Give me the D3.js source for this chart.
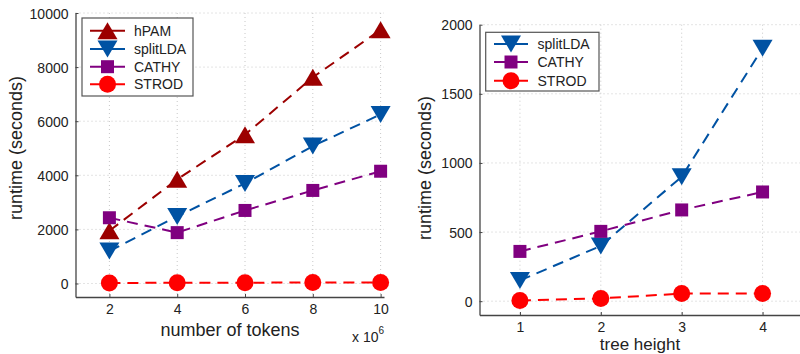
<!DOCTYPE html>
<html>
<head>
<meta charset="utf-8">
<script src="https://cdn.jsdelivr.net/npm/d3@7"></script>
<style>
  html, body { margin: 0; padding: 0; background: #fff; }
  svg { display: block; font-family: "Liberation Sans", Arial, sans-serif; }
</style>
</head>
<body>
<svg id="chart" width="800" height="354"></svg>
<script>
// Runtime vs. number of tokens (x 10^6)
const tokenCounts = [2, 4, 6, 8, 10];
const hpamByTokens = [1950, 3850, 5500, 7620, 9380];
const splitLdaByTokens = [1200, 2480, 3700, 5080, 6250];
const cathyByTokens = [2430, 1880, 2700, 3440, 4150];
const strodByTokens = [20, 25, 30, 35, 40];
const tokenYTicks = [0, 2000, 4000, 6000, 8000, 10000];

// Runtime vs. tree height
const treeHeights = [1, 2, 3, 4];
const splitLdaByHeight = [150, 400, 900, 1830];
const cathyByHeight = [360, 505, 660, 790];
const strodByHeight = [5, 20, 55, 55];
const heightYTicks = [0, 500, 1000, 1500, 2000];

const COLORS = {
  hPAM: "#9c0000",
  splitLDA: "#0052a3",
  CATHY: "#800080",
  STROD: "#ff0000"
};
const SHAPES = { hPAM: "up", splitLDA: "down", CATHY: "square", STROD: "circle" };

const svg = d3.select("#chart");
const plain = d3.format("d");

function markerPath(shape) {
  if (shape === "up") return "M0,-8.5L10,8.5L-10,8.5Z";
  if (shape === "down") return "M0,8.5L10,-8.5L-10,-8.5Z";
  if (shape === "square") return "M-6.5,-6.5H6.5V6.5H-6.5Z";
  return d3.symbol(d3.symbolCircle, Math.PI * 8.5 * 8.5)();
}

function drawPanel(cfg) {
  const g = svg.append("g");
  const x = d3.scaleLinear().domain(cfg.xDomain).range(cfg.xRange);
  const y = d3.scaleLinear().domain(cfg.yDomain).range(cfg.yRange);
  const [x0, x1] = cfg.xRange;
  const [yb, yt] = cfg.yRange;

  // dotted grid
  g.append("g").selectAll("line").data(cfg.yTicks).join("line")
    .attr("x1", x0).attr("x2", x1)
    .attr("y1", d => y(d)).attr("y2", d => y(d))
    .attr("stroke", "#c8c8c8").attr("stroke-width", 1)
    .attr("stroke-dasharray", "1,3");
  g.append("g").selectAll("line").data(cfg.xTicks).join("line")
    .attr("x1", d => x(d)).attr("x2", d => x(d))
    .attr("y1", yt).attr("y2", yb)
    .attr("stroke", "#c8c8c8").attr("stroke-width", 1)
    .attr("stroke-dasharray", "1,3");

  // axes with inward ticks
  const xAxis = d3.axisBottom(x).tickValues(cfg.xTicks).tickFormat(plain)
    .tickSizeInner(-3).tickSizeOuter(0);
  const yAxis = d3.axisLeft(y).tickValues(cfg.yTicks).tickFormat(plain)
    .tickSizeInner(-3).tickSizeOuter(0).tickPadding(7);
  const gx = g.append("g").attr("transform", `translate(0,${yb})`).call(xAxis);
  const gy = g.append("g").attr("transform", `translate(${x0},0)`).call(yAxis);
  [gx, gy].forEach(ax => {
    ax.select(".domain").attr("stroke", "#444").attr("stroke-width", 1.3);
    ax.selectAll(".tick line").attr("stroke", "#444");
    ax.selectAll(".tick text")
      .attr("font-family", "Liberation Sans, Arial, sans-serif")
      .attr("font-size", 14).attr("fill", "#222");
  });
  gx.selectAll(".tick text").attr("dy", null).attr("y", cfg.xTickBaseline - yb);
  gy.selectAll(".tick text").attr("dy", "0.36em");

  // series
  const line = d3.line().x(d => x(d[0])).y(d => y(d[1]));
  cfg.series.forEach(s => {
    const pts = cfg.xValues.map((v, i) => [v, s.values[i]]);
    g.append("path").datum(pts)
      .attr("d", line)
      .attr("fill", "none")
      .attr("stroke", COLORS[s.name])
      .attr("stroke-width", 2)
      .attr("stroke-dasharray", "11,7");
    g.append("g").selectAll("path").data(pts).join("path")
      .attr("transform", d => `translate(${x(d[0])},${y(d[1])})`)
      .attr("d", markerPath(SHAPES[s.name]))
      .attr("fill", COLORS[s.name]);
  });

  // labels
  g.append("text")
    .attr("x", cfg.xLabelPos[0]).attr("y", cfg.xLabelPos[1])
    .attr("text-anchor", "middle").attr("font-size", cfg.xLabelSize).attr("fill", "#222")
    .text(cfg.xLabel);
  g.append("text")
    .attr("transform", `translate(${cfg.yLabelPos[0]},${cfg.yLabelPos[1]}) rotate(-90)`)
    .attr("text-anchor", "middle").attr("font-size", 18).attr("fill", "#222")
    .text("runtime (seconds)");

  // legend
  const L = cfg.legend;
  g.append("rect")
    .attr("x", L.x).attr("y", L.y).attr("width", L.w).attr("height", L.h)
    .attr("fill", "#fff").attr("stroke", "#555").attr("stroke-width", 1.2);
  cfg.series.forEach((s, i) => {
    const ly = L.rows[i];
    g.append("line")
      .attr("x1", L.lx0).attr("x2", L.lx1).attr("y1", ly).attr("y2", ly)
      .attr("stroke", COLORS[s.name]).attr("stroke-width", 2);
    g.append("path")
      .attr("transform", `translate(${(L.lx0 + L.lx1) / 2},${ly})`)
      .attr("d", markerPath(SHAPES[s.name]))
      .attr("fill", COLORS[s.name]);
    g.append("text")
      .attr("x", L.tx).attr("y", ly + 5)
      .attr("font-size", 14).attr("fill", "#222")
      .text(s.name);
  });
  return g;
}

const left = drawPanel({
  xDomain: [1, 10.1], xRange: [75.5, 384],
  yDomain: [-500, 10000], yRange: [297, 13],
  xTicks: tokenCounts, yTicks: tokenYTicks, xValues: tokenCounts,
  xTickBaseline: 314,
  series: [
    { name: "hPAM", values: hpamByTokens },
    { name: "splitLDA", values: splitLdaByTokens },
    { name: "CATHY", values: cathyByTokens },
    { name: "STROD", values: strodByTokens }
  ],
  xLabel: "number of tokens", xLabelPos: [230, 336], xLabelSize: 18,
  yLabelPos: [22, 148],
  legend: { x: 82, y: 18, w: 111, h: 78, rows: [30.7, 49, 66.7, 84.3], lx0: 90, lx1: 125, tx: 134 }
});

// x 10^6 multiplier under the token axis
const mult = left.append("text").attr("x", 352).attr("y", 342).attr("font-size", 14).attr("fill", "#222");
mult.append("tspan").text("x 10");
mult.append("tspan").attr("font-size", 10).attr("dy", -8).text("6");

drawPanel({
  xDomain: [0.5, 4.5], xRange: [479.5, 803],
  yDomain: [-100, 2000], yRange: [315, 24.7],
  xTicks: treeHeights, yTicks: heightYTicks, xValues: treeHeights,
  xTickBaseline: 332,
  series: [
    { name: "splitLDA", values: splitLdaByHeight },
    { name: "CATHY", values: cathyByHeight },
    { name: "STROD", values: strodByHeight }
  ],
  xLabel: "tree height", xLabelPos: [640, 350], xLabelSize: 17,
  yLabelPos: [431, 168],
  legend: { x: 485.7, y: 32.3, w: 113.3, h: 58.7, rows: [44, 62, 80.7], lx0: 494, lx1: 528, tx: 537.5 }
});
</script>
</body>
</html>
